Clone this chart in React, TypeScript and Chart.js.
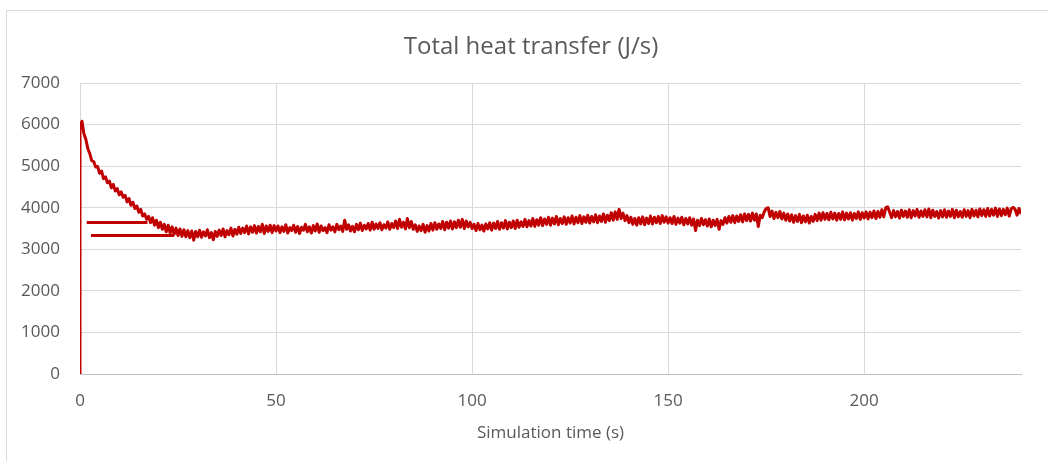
import { useEffect, useRef } from "react";
import { Chart, registerables } from "chart.js";

Chart.register(...registerables);

// ---------- DATA ----------
const chartTitle = "Total heat transfer (J/s)";
const xAxisTitle = "Simulation time (s)";

// x axis (s) and y axis (J/s) tick settings
const xMin = 0;
const xMax = 240;
const xStep = 50;
const yMin = 0;
const yMax = 7000;
const yStep = 1000;

// solver output is written every 0.5 s
const sampleInterval = 0.5;

// first row of the output file (heat transfer before the first step)
const initialTime = 0;
const initialHeat = 0;

// heat transfer (J/s), t = 0 .. 50 s
const heatStart0 = 0;
const heat0to50 = [
  5950, 6080, 5780, 5640, 5420, 5300, 5130, 5110, 4980, 4990,
  4830, 4880, 4700, 4740, 4600, 4640, 4480, 4560, 4400, 4460,
  4310, 4380, 4250, 4300, 4140, 4220, 4060, 4130, 3980, 4040,
  3890, 3960, 3800, 3850, 3720, 3790, 3640, 3760, 3580, 3700,
  3520, 3650, 3480, 3600, 3420, 3580, 3390, 3540, 3360, 3510,
  3330, 3490, 3310, 3470, 3300, 3450, 3280, 3440, 3220, 3430,
  3300, 3460, 3290, 3420, 3320, 3470, 3280, 3400, 3230, 3430,
  3310, 3460, 3330, 3490, 3300, 3450, 3350, 3510, 3320, 3480,
  3360, 3530, 3380, 3510, 3400, 3560, 3370, 3540, 3410, 3570,
  3390, 3550, 3420, 3600, 3380, 3560, 3430, 3580, 3400, 3570,
  3440,
];

// t = 50.5 .. 100 s
const heatStart50 = 50.5;
const heat50to100 = [
  3560, 3400, 3540, 3430, 3590, 3390, 3520, 3450, 3580, 3410,
  3550, 3380, 3530, 3460, 3600, 3420, 3540, 3390, 3570, 3440,
  3610, 3410, 3560, 3450, 3520, 3400, 3590, 3460, 3540, 3420,
  3600, 3470, 3560, 3430, 3700, 3480, 3590, 3440, 3550, 3420,
  3600, 3470, 3630, 3450, 3580, 3490, 3620, 3460, 3650, 3480,
  3610, 3500, 3640, 3470, 3590, 3510, 3660, 3480, 3620, 3520,
  3680, 3500, 3720, 3530, 3650, 3490, 3740, 3520, 3670, 3480,
  3590, 3430, 3560, 3450, 3600, 3410, 3570, 3440, 3620, 3460,
  3640, 3480, 3610, 3500, 3670, 3470, 3650, 3510, 3680, 3490,
  3660, 3520, 3700, 3530, 3720, 3500, 3680, 3540, 3650, 3500,
];

// t = 100.5 .. 150 s
const heatStart100 = 100.5;
const heat100to150 = [
  3600, 3450, 3620, 3470, 3580, 3440, 3610, 3490, 3640, 3460,
  3630, 3500, 3670, 3480, 3640, 3510, 3690, 3490, 3650, 3520,
  3680, 3500, 3700, 3530, 3660, 3550, 3720, 3540, 3690, 3560,
  3740, 3550, 3710, 3580, 3760, 3570, 3730, 3600, 3770, 3580,
  3750, 3610, 3790, 3590, 3740, 3620, 3780, 3600, 3760, 3630,
  3800, 3610, 3770, 3640, 3810, 3620, 3780, 3650, 3820, 3630,
  3790, 3660, 3830, 3640, 3800, 3670, 3850, 3650, 3820, 3690,
  3880, 3700, 3900, 3720, 3960, 3740, 3870, 3690, 3810, 3640,
  3770, 3600, 3740, 3580, 3760, 3610, 3780, 3590, 3750, 3620,
  3800, 3610, 3770, 3640, 3790, 3620, 3810, 3650, 3780, 3630,
];

// t = 150.5 .. 200 s
const heatStart150 = 150.5;
const heat150to200 = [
  3760, 3620, 3790, 3600, 3750, 3630, 3770, 3590, 3740, 3610,
  3760, 3580, 3730, 3450, 3700, 3570, 3740, 3590, 3710, 3560,
  3730, 3540, 3700, 3570, 3720, 3480, 3690, 3600, 3760, 3630,
  3790, 3650, 3810, 3640, 3800, 3670, 3830, 3660, 3850, 3690,
  3840, 3680, 3870, 3700, 3850, 3550, 3820, 3760, 3900, 3980,
  4000, 3790, 3920, 3740, 3890, 3760, 3910, 3730, 3870, 3700,
  3850, 3680, 3830, 3650, 3810, 3670, 3840, 3640, 3800, 3660,
  3820, 3630, 3790, 3670, 3840, 3690, 3870, 3700, 3880, 3720,
  3860, 3710, 3890, 3730, 3870, 3700, 3860, 3720, 3900, 3710,
  3870, 3730, 3880, 3700, 3860, 3740, 3900, 3720, 3880, 3750,
];

// t = 200.5 .. 240 s
const heatStart200 = 200.5;
const heat200to240 = [
  3900, 3730, 3890, 3760, 3920, 3740, 3910, 3770, 3950, 3780,
  4000, 4020, 3890, 3760, 3930, 3780, 3910, 3750, 3940, 3790,
  3920, 3770, 3950, 3760, 3930, 3800, 3960, 3770, 3920, 3790,
  3950, 3780, 3970, 3760, 3940, 3790, 3910, 3750, 3930, 3780,
  3950, 3770, 3920, 3790, 3960, 3760, 3940, 3780, 3910, 3770,
  3950, 3790, 3930, 3760, 3960, 3800, 3940, 3780, 3970, 3810,
  3950, 3790, 3980, 3800, 3960, 3820, 3990, 3790, 3970, 3810,
  3960, 3830, 3990, 3800, 3970, 4010, 3960, 3820, 3980, 3850,
];

// rows where the time column restarted (drawn as flat traces)
const restartStartTimes = [1.7, 2.8];
const restartEndTimes = [17.2, 24];
const restartLevels = [3645, 3330];

// ---------- STYLE ----------
const lineColor = "#C00000";
const textColor = "#595959";
const gridColor = "#d9d9d9";
const fontFamily = "'Open Sans', 'Noto Sans', sans-serif";

const titlePlugin = {
  id: "excelTitle",
  afterDraw(chart: any) {
    const ctx = chart.ctx;
    ctx.save();
    ctx.font = `normal 24px ${fontFamily}`;
    ctx.fillStyle = textColor;
    ctx.textAlign = "center";
    ctx.textBaseline = "alphabetic";
    ctx.fillText(chartTitle, 531, 54);
    ctx.restore();
  },
};

export default function App() {
  const canvasRef = useRef<HTMLCanvasElement | null>(null);

  useEffect(() => {
    const canvas = canvasRef.current;
    if (!canvas) return;

    const segments = [
      { start: heatStart0, values: heat0to50 },
      { start: heatStart50, values: heat50to100 },
      { start: heatStart100, values: heat100to150 },
      { start: heatStart150, values: heat150to200 },
      { start: heatStart200, values: heat200to240 },
    ];
    const mainPoints: { x: number; y: number }[] = [{ x: initialTime, y: initialHeat }];
    segments.forEach((seg) => {
      seg.values.forEach((v, i) => {
        mainPoints.push({ x: seg.start + i * sampleInterval, y: v });
      });
    });

    const restartDatasets = restartStartTimes.map((t0, i) => ({
      data: [
        { x: t0, y: restartLevels[i] },
        { x: restartEndTimes[i], y: restartLevels[i] },
      ],
      borderColor: lineColor,
      borderWidth: 3,
      pointRadius: 0,
      tension: 0,
      fill: false,
    }));

    const chart = new Chart(canvas, {
      type: "line",
      data: {
        datasets: [
          {
            data: mainPoints,
            borderColor: lineColor,
            borderWidth: 3,
            borderJoinStyle: "round",
            pointRadius: 0,
            tension: 0,
            fill: false,
          },
          ...restartDatasets,
        ],
      },
      options: {
        animation: false,
        responsive: false,
        layout: { padding: { left: 0, right: 27, top: 83, bottom: 0 } },
        plugins: {
          legend: { display: false },
          tooltip: { enabled: false },
          title: { display: false },
        },
        scales: {
          x: {
            type: "linear",
            min: xMin,
            max: xMax,
            afterFit: (s: any) => {
              s.height = 87;
            },
            ticks: {
              stepSize: xStep,
              includeBounds: false,
              color: textColor,
              font: { family: fontFamily, size: 17 },
              padding: 17,
              maxRotation: 0,
              callback: (v: any) => String(v),
            },
            grid: { color: gridColor, drawTicks: false },
            border: { color: "#bfbfbf" },
            title: {
              display: true,
              text: xAxisTitle,
              color: textColor,
              font: { family: fontFamily, size: 17 },
              padding: { top: 0, bottom: 18 },
            },
          },
          y: {
            type: "linear",
            min: yMin,
            max: yMax,
            afterFit: (s: any) => {
              s.width = 80;
            },
            ticks: {
              stepSize: yStep,
              color: textColor,
              font: { family: fontFamily, size: 17 },
              padding: 20,
              callback: (v: any) => String(v),
            },
            grid: { color: gridColor, drawTicks: false },
            border: { display: false },
          },
        },
      },
      plugins: [titlePlugin],
    } as any);

    return () => chart.destroy();
  }, []);

  return (
    <div style={{ position: "fixed", left: 0, top: 0, width: 1048, height: 461, background: "#fff", overflow: "hidden" }}>
      <div
        style={{
          position: "absolute",
          left: 6,
          top: 10,
          width: 1100,
          height: 500,
          border: "1px solid #d9d9d9",
          boxSizing: "border-box",
        }}
      />
      <canvas
        ref={canvasRef}
        width={1048}
        height={461}
        style={{ position: "absolute", left: 0, top: 0, width: 1048, height: 461 }}
      />
    </div>
  );
}
